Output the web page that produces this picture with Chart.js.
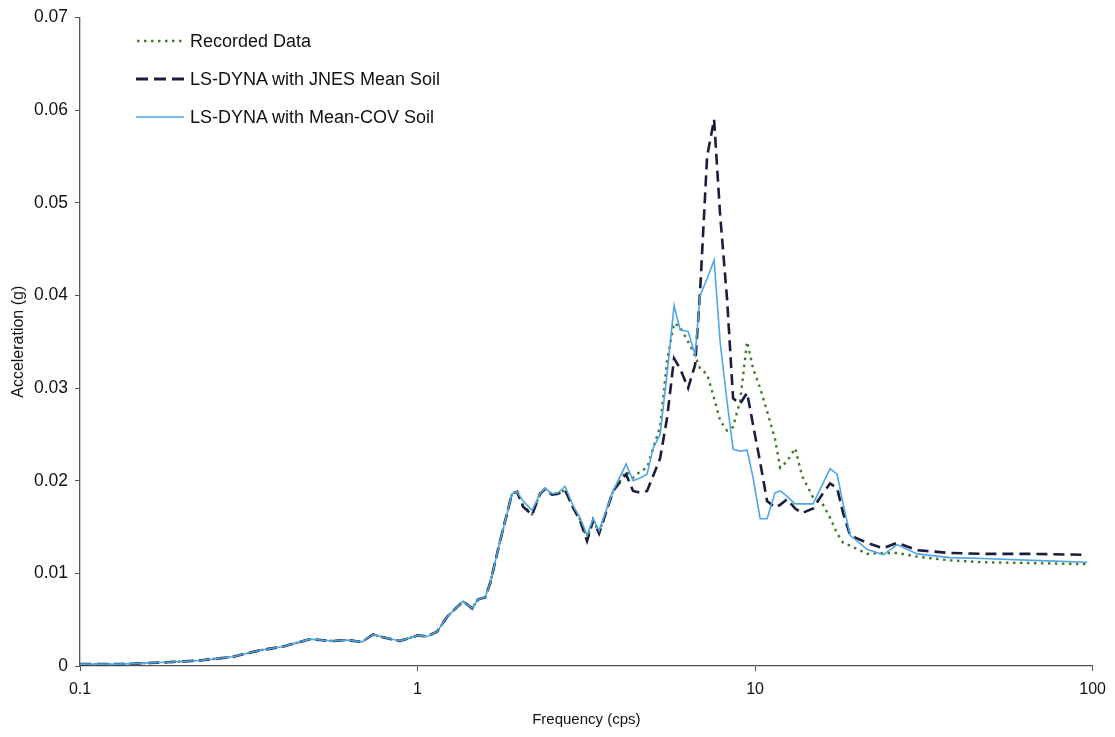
<!DOCTYPE html>
<html>
<head>
<meta charset="utf-8">
<script src="https://cdn.jsdelivr.net/npm/chart.js@4"></script>
<style>
  html, body { margin: 0; padding: 0; background: #ffffff; }
  #wrap { position: relative; width: 1115px; height: 737px; }
  #c { position: absolute; left: 0; top: 0; }
  .lg { position: absolute; left: 136px; height: 20px; display: flex; align-items: center;
        font-family: "Liberation Sans", Arial, sans-serif; font-size: 18px; color: #111; white-space: nowrap; }
  .lg svg { margin-right: 6px; }
</style>
</head>
<body>
<div id="wrap">
  <canvas id="c" width="1115" height="737"></canvas>
  <div class="lg" style="top:31px"><svg width="48" height="10"><line x1="1" y1="5" x2="48" y2="5" stroke="#3d7a2a" stroke-width="2.5" stroke-dasharray="2.5 4.5"/></svg><span id="lg0"></span></div>
  <div class="lg" style="top:69px"><svg width="48" height="10"><line x1="0" y1="5" x2="48" y2="5" stroke="#1c1c3c" stroke-width="3" stroke-dasharray="12 6"/></svg><span id="lg1"></span></div>
  <div class="lg" style="top:107px"><svg width="48" height="10"><line x1="0" y1="5" x2="48" y2="5" stroke="#4ea6e6" stroke-width="1.6"/></svg><span id="lg2"></span></div>
</div>
<script>
// ---- data ----
const seriesNames = ["Recorded Data", "LS-DYNA with JNES Mean Soil", "LS-DYNA with Mean-COV Soil"];

const freq = [
  0.1, 0.131, 0.181, 0.227, 0.284, 0.342, 0.400, 0.480, 0.514, 0.562, 0.618, 0.685, 0.738, 0.790, 0.887,
  1.0, 1.067, 1.142, 1.223, 1.364, 1.451, 1.511, 1.585, 1.640, 1.756, 1.905, 1.972,
  2.054, 2.184, 2.307, 2.387, 2.503, 2.608, 2.735, 2.889, 3.030, 3.178, 3.311, 3.450,
  3.796, 4.148, 4.350, 4.563, 4.786, 4.986, 5.230, 5.486, 5.754, 5.995, 6.333, 6.641, 6.871, 7.208, 7.560,
  7.877, 8.260, 8.605, 9.028, 9.469, 9.865, 10.35, 10.85, 11.46, 11.86, 12.44, 13.14, 13.78,
  14.85, 15.79, 16.68, 17.50, 18.23, 19.12, 21.47, 23.95, 26.35, 30.20, 37.83, 47.39, 66.63, 96.31
];

const recorded = [
  0.0002, 0.0002, 0.0004, 0.0006, 0.0010, 0.0017, 0.0021, 0.0029, 0.0028, 0.0027, 0.0028, 0.0026, 0.0034, 0.0031, 0.0027,
  0.0033, 0.0032, 0.0037, 0.0053, 0.0070, 0.0062, 0.0072, 0.0074, 0.0089, 0.0135, 0.0186, 0.0188,
  0.0173, 0.0164, 0.0186, 0.0191, 0.0185, 0.0186, 0.0190, 0.0172, 0.0158, 0.0137, 0.0158, 0.0144,
  0.0189, 0.0210, 0.0203, 0.0210, 0.0214, 0.0235, 0.0258, 0.0330, 0.0370, 0.0366, 0.0350, 0.0335, 0.0321, 0.0315, 0.0289,
  0.0265, 0.0254, 0.0258, 0.0286, 0.0350, 0.0321, 0.0300, 0.0275, 0.0245, 0.0214, 0.0221, 0.0235, 0.0205,
  0.0182, 0.0176, 0.0160, 0.0143, 0.0133, 0.0130, 0.0121, 0.0122, 0.0122, 0.0118, 0.0114, 0.0112, 0.0111, 0.0110
];

const jnesMean = [
  0.0002, 0.0002, 0.0004, 0.0006, 0.0010, 0.0017, 0.0021, 0.0029, 0.0028, 0.0027, 0.0028, 0.0026, 0.0034, 0.0031, 0.0027,
  0.0033, 0.0032, 0.0037, 0.0053, 0.0070, 0.0062, 0.0072, 0.0074, 0.0089, 0.0135, 0.0186, 0.0188,
  0.0172, 0.0163, 0.0186, 0.0191, 0.0185, 0.0186, 0.0190, 0.0171, 0.0157, 0.0135, 0.0157, 0.0143,
  0.0189, 0.0207, 0.0189, 0.0187, 0.0189, 0.0205, 0.0224, 0.0268, 0.0332, 0.0321, 0.0300, 0.0325, 0.0404, 0.0550, 0.0590,
  0.0487, 0.0396, 0.0289, 0.0283, 0.0295, 0.0260, 0.0220, 0.0178, 0.0171, 0.0174, 0.0180, 0.0170, 0.0165,
  0.0170, 0.0185, 0.0197, 0.0192, 0.0165, 0.0141, 0.0133, 0.0127, 0.0133, 0.0125, 0.0122, 0.0121, 0.0121, 0.0120
];

const meanCov = [
  0.0002, 0.0002, 0.0004, 0.0006, 0.0010, 0.0017, 0.0021, 0.0029, 0.0028, 0.0027, 0.0028, 0.0026, 0.0034, 0.0031, 0.0027,
  0.0033, 0.0032, 0.0037, 0.0053, 0.0070, 0.0062, 0.0072, 0.0074, 0.0089, 0.0135, 0.0186, 0.0188,
  0.0178, 0.0168, 0.0186, 0.0192, 0.0186, 0.0187, 0.0194, 0.0173, 0.0160, 0.0141, 0.0159, 0.0146,
  0.0189, 0.0218, 0.0200, 0.0203, 0.0207, 0.0235, 0.0250, 0.0315, 0.0389, 0.0363, 0.0361, 0.0336, 0.0400, 0.0418, 0.0438,
  0.0350, 0.0285, 0.0234, 0.0232, 0.0233, 0.0203, 0.0159, 0.0159, 0.0187, 0.0189, 0.0183, 0.0175, 0.0175,
  0.0175, 0.0195, 0.0213, 0.0207, 0.0175, 0.0141, 0.0126, 0.0120, 0.0131, 0.0121, 0.0117, 0.0116, 0.0114, 0.0112
];

const xTickValues = [0.1, 1, 10, 100];
const yMin = 0, yMax = 0.07, yStep = 0.01;
const xTitle = "Frequency (cps)";
const yTitle = "Acceleration (g)";

// ---- chart ----
const pts = arr => freq.map((f, i) => ({ x: f, y: arr[i] }));
document.getElementById('lg0').textContent = seriesNames[0];
document.getElementById('lg1').textContent = seriesNames[1];
document.getElementById('lg2').textContent = seriesNames[2];

const FONT = '"Liberation Sans", Arial, sans-serif';
const axisColor = '#555555';

new Chart(document.getElementById('c'), {
  type: 'line',
  data: {
    datasets: [
      { label: seriesNames[2], data: pts(meanCov), borderColor: '#4ea6e6', borderWidth: 1.6,
        pointRadius: 0, tension: 0, fill: false, order: 1 },
      { label: seriesNames[1], data: pts(jnesMean), borderColor: '#1c1c3c', borderWidth: 2.6,
        borderDash: [11, 6], pointRadius: 0, tension: 0, fill: false, order: 2 },
      { label: seriesNames[0], data: pts(recorded), borderColor: '#3d7a2a', borderWidth: 2.4,
        borderDash: [2.5, 4.5], pointRadius: 0, tension: 0, fill: false, order: 3 }
    ]
  },
  options: {
    responsive: false,
    animation: false,
    events: [],
    layout: { padding: { left: 0, right: 22, top: 14, bottom: 0 } },
    plugins: { legend: { display: false }, tooltip: { enabled: false } },
    scales: {
      x: {
        type: 'logarithmic',
        min: 0.1, max: 100,
        afterBuildTicks: s => { s.ticks = xTickValues.map(v => ({ value: v })); },
        afterFit: s => { s.height = 71; },
        ticks: {
          autoSkip: false, maxRotation: 0, padding: 9, color: '#111',
          font: { family: FONT, size: 16 },
          callback: v => String(v)
        },
        grid: { drawOnChartArea: false, drawTicks: true, tickLength: 5, color: axisColor },
        border: { display: true, color: axisColor, width: 1.3 },
        title: { display: true, text: xTitle, color: '#111', font: { family: FONT, size: 15 },
                 padding: { top: 0, bottom: 8 } }
      },
      y: {
        min: yMin, max: yMax,
        afterFit: s => { s.width = 80; },
        ticks: {
          stepSize: yStep, padding: 7, color: '#111',
          font: { family: FONT, size: 17.5 },
          callback: v => String(Number(v.toFixed(2)))
        },
        grid: { drawOnChartArea: false, drawTicks: true, tickLength: 5, color: axisColor },
        border: { display: true, color: axisColor, width: 1.3 },
        title: { display: true, text: yTitle, color: '#111', font: { family: FONT, size: 16 },
                 padding: { top: 9, bottom: 0 } }
      }
    }
  }
});
</script>
</body>
</html>
